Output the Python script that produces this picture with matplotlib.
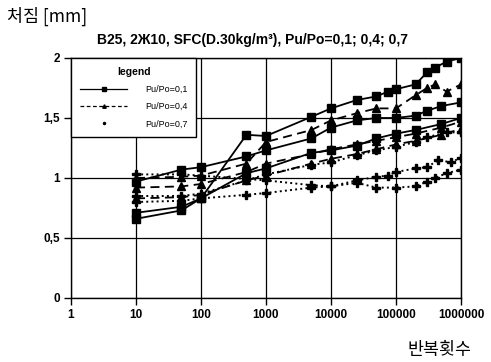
import matplotlib.pyplot as plt
from matplotlib.lines import Line2D

# solid lines, Pu/Po=0,1 (square markers)
s1_x = [10, 50, 100, 500, 1000, 5000, 10000, 25000, 50000, 100000, 200000, 300000, 500000, 1000000]
s1_y = [0.97, 1.07, 1.09, 1.18, 1.23, 1.33, 1.42, 1.48, 1.50, 1.50, 1.52, 1.56, 1.60, 1.63]
s2_x = [10, 50, 100, 500, 1000, 5000, 10000, 25000, 50000, 75000, 100000, 200000, 300000, 400000, 600000, 1000000]
s2_y = [0.71, 0.76, 0.83, 1.36, 1.35, 1.51, 1.58, 1.65, 1.68, 1.72, 1.74, 1.78, 1.88, 1.92, 1.97, 2.00]
s3_x = [10, 50, 100, 500, 1000, 5000, 10000, 25000, 50000, 100000, 200000, 500000, 1000000]
s3_y = [0.66, 0.73, 0.83, 1.04, 1.08, 1.21, 1.23, 1.27, 1.33, 1.37, 1.40, 1.45, 1.50]

# dashed lines, Pu/Po=0,4 (triangle markers)
d1_x = [10, 50, 100, 500, 1000, 5000, 10000, 25000, 50000, 100000, 200000, 300000, 400000, 600000, 1000000]
d1_y = [1.00, 1.01, 1.02, 1.12, 1.30, 1.40, 1.48, 1.54, 1.58, 1.58, 1.69, 1.75, 1.78, 1.72, 1.78]
d2_x = [10, 50, 100, 500, 1000, 5000, 10000, 25000, 50000, 100000, 200000, 500000, 1000000]
d2_y = [0.92, 0.93, 0.95, 1.05, 1.12, 1.20, 1.24, 1.28, 1.31, 1.34, 1.37, 1.42, 1.47]
d3_x = [10, 50, 100, 500, 1000, 5000, 10000, 25000, 50000, 100000, 200000, 500000, 1000000]
d3_y = [0.83, 0.84, 0.86, 0.98, 1.02, 1.12, 1.16, 1.20, 1.24, 1.28, 1.31, 1.36, 1.41]

# dotted lines, Pu/Po=0,7 (plus markers)
p1_x = [10, 50, 100, 500, 1000, 5000, 10000, 25000, 50000, 100000, 200000, 300000, 600000, 1000000]
p1_y = [0.85, 0.85, 0.87, 0.98, 1.03, 1.11, 1.13, 1.19, 1.23, 1.26, 1.30, 1.34, 1.38, 1.38]
p2_x = [10, 50, 100, 1000, 5000, 10000, 25000, 50000, 75000, 100000, 200000, 300000, 450000, 700000, 1000000]
p2_y = [1.03, 1.03, 1.02, 0.98, 0.94, 0.93, 0.98, 1.01, 1.02, 1.05, 1.08, 1.09, 1.15, 1.13, 1.17]
p3_x = [10, 50, 100, 500, 1000, 5000, 10000, 25000, 50000, 100000, 200000, 300000, 400000, 600000, 1000000]
p3_y = [0.80, 0.81, 0.83, 0.86, 0.875, 0.92, 0.93, 0.96, 0.92, 0.92, 0.93, 0.97, 1.00, 1.04, 1.07]

x_ticks = [1, 10, 100, 1000, 10000, 100000, 1000000]
x_labels = ["1", "10", "100", "1000", "10000", "100000", "1000000"]
y_ticks = [0, 0.5, 1, 1.5, 2]
y_labels = ["0", "0,5", "1", "1,5", "2"]
legend_labels = ["Pu/Po=0,1", "Pu/Po=0,4", "Pu/Po=0,7"]

plt.rcParams['font.family'] = ['Liberation Sans', 'DejaVu Sans']

fig = plt.figure(figsize=(4.91, 3.62), dpi=100)
ax = fig.add_axes([71 / 491, 1 - 298 / 362, 390 / 491, 240 / 362])

for xs, ys in [(s1_x, s1_y), (s2_x, s2_y), (s3_x, s3_y)]:
    ax.plot(xs, ys, '-', color='black', lw=1.3, marker='s', ms=5.5)
for xs, ys in [(d1_x, d1_y), (d2_x, d2_y), (d3_x, d3_y)]:
    ax.plot(xs, ys, '--', color='black', lw=1.3, marker='^', ms=5.5, dashes=(5, 3))
for xs, ys in [(p1_x, p1_y), (p2_x, p2_y), (p3_x, p3_y)]:
    ax.plot(xs, ys, ':', color='black', lw=1.4, marker='P', ms=5.5)

ax.set_xscale('log')
ax.set_xlim(1, 1000000)
ax.set_ylim(0, 2)
ax.set_xticks(x_ticks)
ax.set_xticklabels(x_labels)
ax.minorticks_off()
ax.set_yticks(y_ticks)
ax.set_yticklabels(y_labels)
ax.tick_params(direction='out', length=5, width=1, colors='black',
               labelsize=8.5, pad=3)
for lab in ax.get_xticklabels() + ax.get_yticklabels():
    lab.set_fontweight('bold')
ax.grid(True, color='black', lw=0.9)
for sp in ax.spines.values():
    sp.set_color('black')
    sp.set_linewidth(1)

handles = [
    Line2D([], [], color='black', ls='-', lw=0.9, marker='s', ms=2.5),
    Line2D([], [], color='black', ls='--', lw=0.9, marker='^', ms=2.5, dashes=(3, 2)),
    Line2D([], [], color='black', ls='none', marker='.', ms=3),
]
leg = ax.legend(handles, legend_labels, title='legend', loc='upper left',
                bbox_to_anchor=(0, 1), borderaxespad=0, fancybox=False,
                edgecolor='black', framealpha=1, fontsize=6.5,
                title_fontsize=7.5, handlelength=5.2, labelspacing=0.9,
                borderpad=1.0, handletextpad=2.0)
leg.get_frame().set_linewidth(1)
leg.get_title().set_fontweight('bold')
leg.set_zorder(5)

fig.text(0.515, 0.89, "B25, 2Ж10, SFC(D.30kg/m³), Pu/Po=0,1; 0,4; 0,7",
         ha='center', va='center', fontsize=10, fontweight='bold')
fig.text(0.015, 0.955, "처짐 [mm]", ha='left', va='center', fontsize=12.5,
         family=['Noto Sans CJK KR', 'DejaVu Sans'])
fig.text(0.96, 0.032, "반복횟수", ha='right', va='center', fontsize=12.5,
         family=['Noto Sans CJK KR', 'DejaVu Sans'])

fig.savefig('out.png', dpi=100)
